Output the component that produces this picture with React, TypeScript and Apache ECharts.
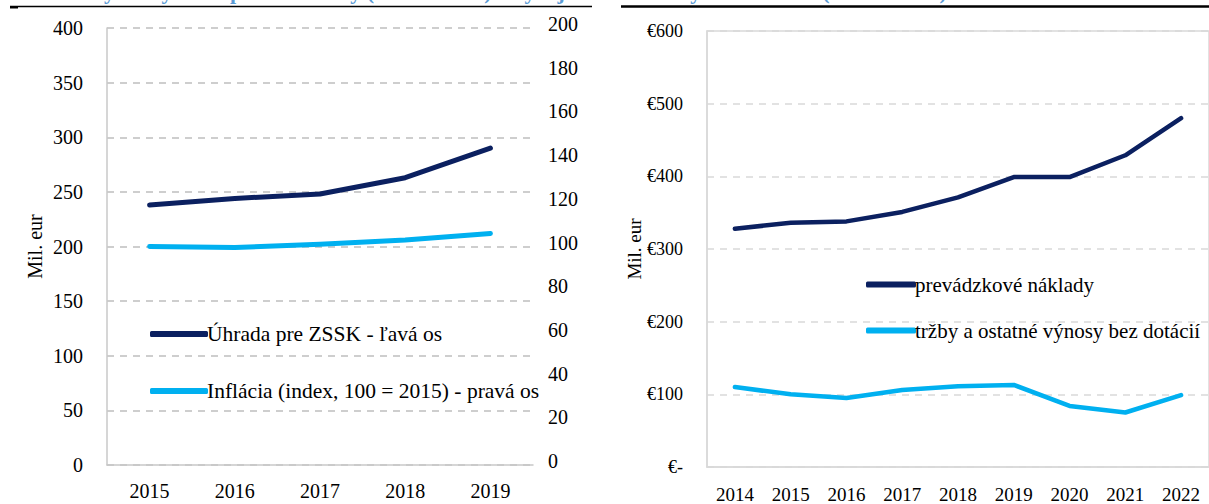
import React, { useEffect, useRef } from "react";
import * as echarts from "echarts";

const leftYears = ["2015", "2016", "2017", "2018", "2019"];
const uhrada = [238, 244, 248, 263, 290];
const inflacia = [100, 99.5, 101, 103, 106];

const rightYears = ["2014", "2015", "2016", "2017", "2018", "2019", "2020", "2021", "2022"];
const naklady = [328, 336, 338, 351, 371, 399, 399, 429, 480];
const trzby = [110, 100, 95, 106, 111, 113, 84, 75, 99];

const NAME_U = "Úhrada pre ZSSK - ľavá os";
const NAME_I = "Inflácia (index, 100 = 2015) - pravá os";
const NAME_N = "prevádzkové náklady";
const NAME_T = "tržby a ostatné výnosy bez dotácií";
const TITLE = "Graf 4: Výdavky na dopravné služby (2015 – 2019) a vývoj nákladov a výnosov ZSSK (2014 – 2022)";

const DARK = "#0b2060";
const LIGHT = "#00b0f0";
const FONT = "Liberation Serif";

export default function App() {
  const ref = useRef<HTMLDivElement>(null);
  useEffect(() => {
    if (!ref.current) return;
    const chart = echarts.init(ref.current, null, { renderer: "svg" });
    const axisText = { color: "#000", fontFamily: FONT, fontSize: 20 };
    const axisTextR = { color: "#000", fontFamily: FONT, fontSize: 19 };
    chart.setOption({
      animation: false,
      backgroundColor: "#fff",
      textStyle: { fontFamily: FONT },
      grid: [
        { left: 107, right: 676, top: 28, bottom: 39 },
        { left: 707, right: -12, top: 31, bottom: 34, show: true, borderColor: "#d9d9d9", borderWidth: 1.5 },
      ],
      legend: [
        {
          data: [NAME_U, NAME_I],
          orient: "vertical",
          left: 145,
          top: 318,
          itemGap: 35,
          itemWidth: 58,
          itemHeight: 6,
          icon: "roundRect",
          textStyle: { ...axisText, fontSize: 21.5, padding: [0, 0, 0, -6] },
        },
        {
          data: [NAME_N, NAME_T],
          orient: "vertical",
          left: 861,
          top: 269,
          itemGap: 25,
          itemWidth: 50,
          itemHeight: 6,
          icon: "roundRect",
          textStyle: { ...axisText, fontSize: 21, padding: [0, 0, 0, -6] },
        },
      ],
      xAxis: [
        {
          type: "category",
          gridIndex: 0,
          data: leftYears,
          axisLine: { lineStyle: { color: "#c8c8c8", width: 1.5 } },
          axisTick: { show: false },
          axisLabel: { ...axisText, margin: 16 },
        },
        {
          type: "category",
          gridIndex: 1,
          data: rightYears,
          axisLine: { lineStyle: { color: "#d9d9d9", width: 1.5 } },
          axisTick: { show: false },
          axisLabel: { ...axisTextR, margin: 18 },
        },
      ],
      yAxis: [
        {
          type: "value",
          gridIndex: 0,
          min: 0,
          max: 400,
          interval: 50,
          name: "Mil. eur",
          nameLocation: "middle",
          nameGap: 62,
          nameRotate: 90,
          nameMoveOverlap: false,
          nameTextStyle: { ...axisText },
          axisLine: { show: true, lineStyle: { color: "#c8c8c8", width: 1.5 } },
          axisTick: { show: false },
          axisLabel: { ...axisText, margin: 24 },
          splitLine: { lineStyle: { color: "#bfbfbf", type: [7, 6], width: 1.5 } },
        },
        {
          type: "value",
          gridIndex: 0,
          position: "right",
          min: 0,
          max: 200,
          interval: 20,
          axisLine: { show: false },
          axisTick: { show: false },
          axisLabel: { ...axisText, margin: 15, verticalAlign: "bottom", padding: [0, 0, -6, 0] },
          splitLine: { show: false },
        },
        {
          type: "value",
          gridIndex: 1,
          min: 0,
          max: 600,
          interval: 100,
          name: "Mil. eur",
          nameLocation: "middle",
          nameGap: 63,
          nameRotate: 90,
          nameMoveOverlap: false,
          nameTextStyle: { ...axisTextR },
          axisLine: { show: true, lineStyle: { color: "#d9d9d9", width: 1.5 } },
          axisTick: { show: false },
          axisLabel: {
            ...axisTextR,
            fontSize: 18,
            margin: 24,
            formatter: (v: number) => (v === 0 ? "€-" : "€" + v),
          },
          splitLine: { lineStyle: { color: "#d9d9d9", type: [7, 6], width: 1.5 } },
        },
      ],
      series: [
        {
          name: NAME_U,
          type: "line",
          xAxisIndex: 0,
          yAxisIndex: 0,
          data: uhrada,
          symbol: "none",
          color: DARK,
          lineStyle: { width: 5, cap: "round", join: "round" },
        },
        {
          name: NAME_I,
          type: "line",
          xAxisIndex: 0,
          yAxisIndex: 1,
          data: inflacia,
          symbol: "none",
          color: LIGHT,
          lineStyle: { width: 5, cap: "round", join: "round" },
        },
        {
          name: NAME_N,
          type: "line",
          xAxisIndex: 1,
          yAxisIndex: 2,
          data: naklady,
          symbol: "none",
          color: DARK,
          lineStyle: { width: 4.5, cap: "round", join: "round" },
        },
        {
          name: NAME_T,
          type: "line",
          xAxisIndex: 1,
          yAxisIndex: 2,
          data: trzby,
          symbol: "none",
          color: LIGHT,
          lineStyle: { width: 4.5, cap: "round", join: "round" },
        },
      ],
      graphic: [
        {
          type: "text",
          left: 14,
          top: -20,
          style: {
            text: TITLE,
            fill: "#5b9bd5",
            fontFamily: FONT,
            fontWeight: "bold",
            fontSize: 22,
          },
          silent: true,
        },
        { type: "line", shape: { x1: 10, y1: 6.5, x2: 592, y2: 6.5 }, style: { stroke: "#000", lineWidth: 1.5 } },
        { type: "line", shape: { x1: 10, y1: 7.5, x2: 18, y2: 7.5 }, style: { stroke: "#000", lineWidth: 2 } },
        { type: "line", shape: { x1: 621, y1: 6.5, x2: 1209, y2: 6.5 }, style: { stroke: "#000", lineWidth: 2.5 } },
      ],
    });
    return () => chart.dispose();
  }, []);
  return (
    <div
      ref={ref}
      style={{ position: "fixed", left: 0, top: 0, width: 1209, height: 504 }}
    />
  );
}
